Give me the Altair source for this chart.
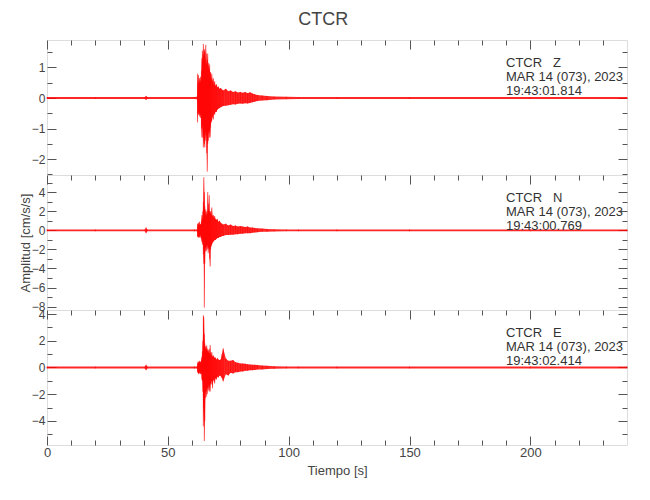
import altair as alt
import pandas as pd

# ---------------- data (envelope of the traces) ----------------
T = [0, 20, 40.5, 41, 41.5, 61,
     62.1, 62.3, 62.5, 62.7, 62.9, 63.1, 63.3, 63.5, 63.7, 63.9,
     64.1, 64.3, 64.5, 64.7, 64.9, 65.1, 65.3, 65.5, 65.7, 65.9,
     66.1, 66.3, 66.5, 66.7, 66.9, 67.1, 67.3, 67.5, 67.7, 67.9,
     68.2, 68.5, 68.8, 69.1, 69.4, 69.7,
     70.1, 70.5, 70.9,
     71.4, 71.9, 72.4, 72.9,
     74, 75, 76, 77, 78, 79, 80, 81, 82, 83, 84, 85, 86, 87,
     89, 91, 94, 99, 104,
     120, 150, 200, 240]

UP_Z = [0.03, 0.03, 0.03, 0.07, 0.03, 0.03,
        0.04, 0.8, 0.45, 0.75, 0.5, 0.65, 0.55, 0.7, 0.5, 0.9,
        1.3, 1.55, 1.2, 1.77, 1.4, 1.6, 1.52, 1.2, 1.74, 1.45,
        1.1, 1.25, 1.46, 1.0, 1.15, 0.9, 1.1, 0.8, 0.85, 0.6,
        0.8, 0.55, 0.65, 0.45, 0.55, 0.4,
        0.45, 0.35, 0.38,
        0.3, 0.33, 0.28, 0.25,
        0.3, 0.22, 0.25, 0.2, 0.22, 0.18, 0.2, 0.17, 0.2, 0.16, 0.19, 0.15, 0.12, 0.1,
        0.08, 0.07, 0.05, 0.04, 0.03,
        0.03, 0.03, 0.03, 0.03]
LO_Z = [-0.03, -0.03, -0.03, -0.06, -0.03, -0.03,
        -0.04, -0.8, -0.5, -0.55, -0.45, -0.6, -0.5, -0.65, -0.55, -1.0,
        -1.29, -0.9, -1.3, -1.62, -1.2, -1.5, -1.62, -1.1, -1.4, -1.2,
        -1.8, -2.41, -1.5, -1.4, -1.1, -1.3, -1.07, -1.29, -0.96, -0.8,
        -0.74, -0.6, -0.7, -0.5, -0.55, -0.45,
        -0.46, -0.38, -0.35,
        -0.33, -0.3, -0.28, -0.26,
        -0.25, -0.24, -0.22, -0.2, -0.21, -0.19, -0.18, -0.19, -0.17, -0.18, -0.16, -0.14, -0.12, -0.1,
        -0.08, -0.07, -0.05, -0.04, -0.03,
        -0.03, -0.03, -0.03, -0.03]

UP_N = [0.1, 0.1, 0.1, 0.3, 0.1, 0.1,
        0.1, 0.7, 0.5, 0.8, 0.6, 0.9, 0.5, 0.7, 0.6, 1.0,
        1.6, 1.2, 2.0, 3.0, 5.57, 4.0, 2.5, 1.7, 2.2, 1.5,
        2.0, 1.7, 4.0, 2.0, 2.8, 3.7, 2.0, 1.8, 2.0, 1.6,
        2.4, 1.5, 1.6, 1.3, 1.5, 1.2,
        1.1, 1.2, 0.9,
        1.0, 0.8, 0.7, 0.6,
        0.7, 0.5, 0.6, 0.45, 0.5, 0.4, 0.45, 0.4, 0.35, 0.4, 0.3, 0.3, 0.25, 0.22,
        0.18, 0.15, 0.12, 0.1, 0.1,
        0.1, 0.1, 0.1, 0.1]
LO_N = [-0.1, -0.1, -0.1, -0.3, -0.1, -0.1,
        -0.1, -0.7, -0.6, -0.7, -0.8, -0.6, -0.7, -0.5, -0.8, -0.9,
        -1.2, -1.5, -1.0, -2.5, -3.5, -8.1, -3.5, -2.2, -1.8, -2.2,
        -1.6, -2.0, -1.5, -2.4, -1.8, -2.0, -3.0, -3.8, -2.0, -1.7,
        -1.5, -1.3, -1.2, -1.1, -1.0, -1.0,
        -0.9, -0.8, -0.8,
        -0.7, -0.7, -0.6, -0.6,
        -0.5, -0.5, -0.45, -0.45, -0.4, -0.4, -0.35, -0.35, -0.3, -0.3, -0.3, -0.25, -0.22, -0.2,
        -0.16, -0.14, -0.12, -0.1, -0.1,
        -0.1, -0.1, -0.1, -0.1]

UP_E = [0.07, 0.07, 0.07, 0.2, 0.07, 0.07,
        0.07, 0.3, 0.45, 0.35, 0.4, 0.5, 0.35, 0.45, 0.4, 0.6,
        0.8, 1.2, 2.0, 3.9, 3.75, 2.5, 1.8, 1.4, 1.6, 1.3,
        1.65, 1.4, 1.2, 1.3, 1.1, 1.4, 1.0, 1.68, 1.1, 0.9,
        1.16, 0.8, 0.9, 0.8, 0.7, 0.75,
        0.6, 0.7, 0.6,
        0.55, 0.6, 1.0, 1.43,
        0.67, 0.5, 0.5, 0.55, 0.4, 0.35, 0.3, 0.3, 0.28, 0.25, 0.22, 0.2, 0.2, 0.18,
        0.15, 0.13, 0.1, 0.08, 0.07,
        0.07, 0.07, 0.07, 0.07]
LO_E = [-0.07, -0.07, -0.07, -0.2, -0.07, -0.07,
        -0.07, -0.35, -0.4, -0.5, -0.3, -0.45, -0.4, -0.5, -0.35, -0.5,
        -0.9, -1.0, -1.8, -4.4, -3.0, -5.5, -4.0, -2.3, -1.8, -2.2,
        -1.6, -2.0, -1.5, -1.7, -1.3, -1.8, -1.4, -1.8, -1.2, -1.28,
        -1.0, -1.56, -1.0, -0.9, -1.2, -0.8,
        -0.9, -0.7, -0.75,
        -0.6, -0.65, -0.8, -1.04,
        -0.5, -0.6, -0.4, -0.45, -0.35, -0.35, -0.3, -0.3, -0.25, -0.25, -0.2, -0.2, -0.18, -0.16,
        -0.15, -0.12, -0.1, -0.08, -0.07,
        -0.07, -0.07, -0.07, -0.07]

X_DOMAIN = [0, 240]
X_MAJOR = [0, 50, 100, 150, 200]
X_MINOR = [10, 20, 30, 40, 60, 70, 80, 90, 110, 120, 130, 140, 160, 170, 180, 190, 210, 220, 230]

Z_DOMAIN = [-2.52, 1.9]
Z_MAJOR = [-2, -1, 0, 1]
Z_MINOR = [-2.5, -1.5, -0.5, 0.5, 1.5]

N_DOMAIN = [-8.35, 5.8]
N_MAJOR = [-8, -6, -4, -2, 0, 2, 4]
N_MINOR = [-7, -5, -3, -1, 1, 3, 5]

E_DOMAIN = [-5.8, 4.3]
E_MAJOR = [-4, -2, 0, 2, 4]
E_MINOR = [-5, -3, -1, 1, 3]

ANN_Z = ["CTCR\u00a0\u00a0\u00a0Z", "MAR 14 (073), 2023", "19:43:01.814"]
ANN_N = ["CTCR\u00a0\u00a0\u00a0N", "MAR 14 (073), 2023", "19:43:00.769"]
ANN_E = ["CTCR\u00a0\u00a0\u00a0E", "MAR 14 (073), 2023", "19:43:02.414"]

TITLE = "CTCR"
X_TITLE = "Tiempo [s]"
Y_TITLE = "Amplitud [cm/s/s]"

# ---------------- style ----------------
FONT = "Liberation Sans, Arial, sans-serif"
RED = "#ff0000"
TICK = "#555555"
TXT = "#444444"
W, H = 580, 135
MAJ, MIN = 9, 5


def xaxis(values, size, orient, labels=False, title=None):
    kw = dict(values=values, tickSize=size, offset=-size, orient=orient, domain=False,
              grid=False, tickColor=TICK, tickWidth=1, labels=labels, labelFlush=False,
              labelFont=FONT, labelFontSize=13, labelColor=TXT, labelPadding=1)
    if title:
        kw.update(title=title, titleFont=FONT, titleFontSize=13, titleFontWeight="normal",
                  titleColor=TXT, titlePadding=5)
    else:
        kw.update(title=None)
    return alt.Axis(**kw)


def yaxis(values, size, orient, labels=False, title=None):
    kw = dict(values=values, tickSize=size, offset=-size, orient=orient, domain=False,
              grid=False, tickColor=TICK, tickWidth=1, labels=labels,
              labelFont=FONT, labelFontSize=12, labelColor=TXT, labelPadding=2)
    if title:
        kw.update(title=title, titleFont=FONT, titleFontSize=13, titleFontWeight="normal",
                  titleColor=TXT, titleX=-31, titleBaseline="middle")
    else:
        kw.update(title=None)
    return alt.Axis(**kw)


def panel(up, lo, dom, ymaj, ymin, ann, bottom, ytitle=None):
    df = pd.DataFrame({"t": T, "up": up, "lo": lo})
    xs = alt.Scale(domain=X_DOMAIN, nice=False, zero=False)
    ys = alt.Scale(domain=dom, nice=False, zero=False)
    base = alt.Chart(df)

    area = base.mark_area(color=RED, opacity=0.85, interpolate="linear").encode(
        x=alt.X("t:Q", scale=xs, axis=xaxis(X_MAJOR, MAJ, "top")),
        y=alt.Y("lo:Q", scale=ys, axis=yaxis(ymaj, MAJ, "left", labels=True, title=ytitle)),
        y2="up:Q",
    )
    rules = base.mark_rule(color=RED, strokeWidth=0.7, opacity=0.9).encode(
        x=alt.X("t:Q", scale=xs, axis=xaxis(X_MINOR, MIN, "top")),
        y=alt.Y("lo:Q", scale=ys, axis=yaxis(ymin, MIN, "left")),
        y2="up:Q",
    )
    inv1 = base.mark_rule(opacity=0).encode(
        x=alt.X("t:Q", scale=xs,
                axis=xaxis(X_MAJOR, MAJ, "bottom", labels=True, title=X_TITLE) if bottom else None),
        y=alt.Y("lo:Q", scale=ys, axis=yaxis(ymaj, MAJ, "right")),
        y2="up:Q",
    )
    inv2 = base.mark_rule(opacity=0).encode(
        x=alt.X("t:Q", scale=xs, axis=xaxis(X_MINOR, MIN, "bottom") if bottom else None),
        y=alt.Y("lo:Q", scale=ys, axis=yaxis(ymin, MIN, "right")),
        y2="up:Q",
    )
    text = alt.Chart(pd.DataFrame({"k": [0]})).mark_text(
        text="\n".join(ann), lineBreak="\n", lineHeight=14.3, align="left",
        baseline="alphabetic", font=FONT, fontSize=13, color="#333333",
    ).encode(x=alt.value(459), y=alt.value(26.5))

    return alt.layer(area, rules, inv1, inv2, text).resolve_axis(
        x="independent", y="independent"
    ).properties(width=W, height=H)


p1 = panel(UP_Z, LO_Z, Z_DOMAIN, Z_MAJOR, Z_MINOR, ANN_Z, False)
p2 = panel(UP_N, LO_N, N_DOMAIN, N_MAJOR, N_MINOR, ANN_N, False, ytitle=Y_TITLE)
p3 = panel(UP_E, LO_E, E_DOMAIN, E_MAJOR, E_MINOR, ANN_E, True)

chart = alt.vconcat(p1, p2, p3, spacing=0, bounds="flush").properties(
    title=alt.TitleParams(TITLE, font=FONT, fontSize=18, fontWeight="normal", color=TXT,
                          anchor="middle", offset=10),
    padding={"left": 10, "top": 3, "right": 5, "bottom": 5},
).configure_view(stroke="#b0b0b0", strokeWidth=1.5).configure(background="white")

chart.save("out.html", embed_options={"renderer": "svg", "actions": False})
